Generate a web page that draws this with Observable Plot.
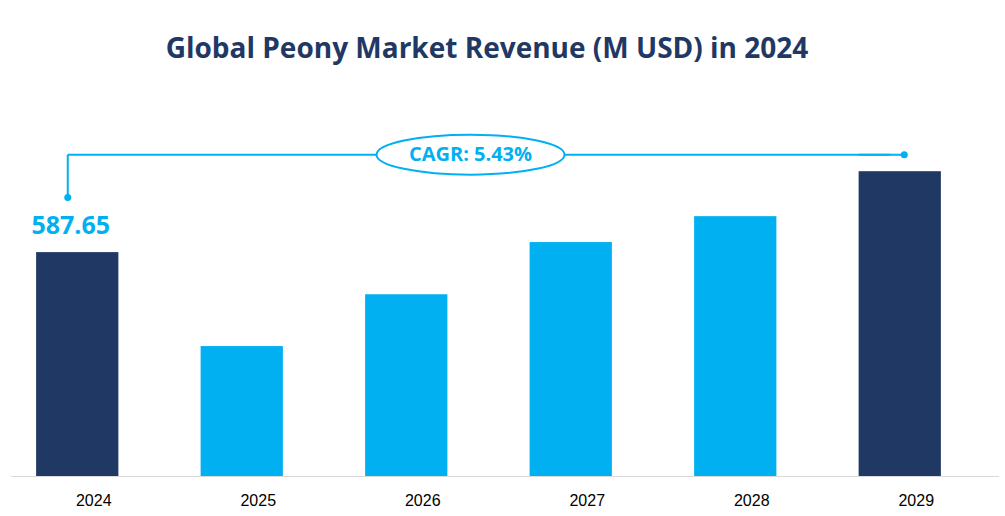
<!DOCTYPE html>
<html>
<head>
<meta charset="utf-8">
<script src="https://cdn.jsdelivr.net/npm/d3@7"></script>
<script src="https://cdn.jsdelivr.net/npm/@observablehq/plot@0.6"></script>
<style>
  html, body { margin: 0; padding: 0; background: #fff; }
  #wrap { position: relative; width: 1005px; height: 516px; overflow: hidden; }
  #title { position: absolute; left: 0; top: 33px; width: 1005px; padding-right: 31px; box-sizing: border-box;
           text-align: center; font-family: "Open Sans", sans-serif; font-weight: 700; font-size: 28px;
           line-height: 28px; color: #1F3864; white-space: nowrap; }
  #chart { position: absolute; left: 0; top: 90px; }
  svg { overflow: visible; }
</style>
</head>
<body>
<div id="wrap">
  <div id="title"></div>
  <div id="chart"></div>
</div>
<script>
const titleText = "Global Peony Market Revenue (M USD) in 2024";
const years = ["2024", "2025", "2026", "2027", "2028", "2029"];
const revenue = [587.65, 341, 477, 614, 682, 800];
const highlighted = ["2024", "2029"];
const startLabel = "587.65";
const cagrText = "CAGR: 5.43%";

const NAVY = "#1F3864";
const CYAN = "#00B0F0";
const FONT = "'Open Sans', sans-serif";

document.getElementById("title").textContent = titleText;

const rows = years.map((y, i) => ({year: y, value: revenue[i], hl: highlighted.includes(y)}));
const bracketLevel = d3.max(revenue) * 1.056;
const dotLevel = revenue[0] * 1.246;
const ann = [{x1: years[0], x2: years[years.length - 1], y1: dotLevel, y2: bracketLevel}];

const ellipse = {
  draw(ctx) {
    const rx = 94, ry = 20, k = 0.5523;
    ctx.moveTo(rx, 0);
    ctx.bezierCurveTo(rx, ry * k, rx * k, ry, 0, ry);
    ctx.bezierCurveTo(-rx * k, ry, -rx, ry * k, -rx, 0);
    ctx.bezierCurveTo(-rx, -ry * k, -rx * k, -ry, 0, -ry);
    ctx.bezierCurveTo(rx * k, -ry, rx, -ry * k, rx, 0);
    ctx.closePath();
  }
};

const chart = Plot.plot({
  width: 1005,
  height: 426,
  marginLeft: 11,
  marginRight: 6,
  marginTop: 5,
  marginBottom: 40,
  style: {background: "transparent", fontFamily: FONT},
  x: {type: "band", domain: years, range: [-5, 982], paddingInner: 0.5, paddingOuter: 0.25, round: false, axis: null},
  y: {domain: [0, 1000], range: [386, 5], axis: null},
  marks: [
    Plot.barY(rows, {x: "year", y: "value", fill: d => d.hl ? NAVY : CYAN}),
    Plot.ruleY([0], {stroke: "#d9d9d9", strokeWidth: 1}),
    Plot.text(rows, {x: "year", y: 0, text: "year", dy: 24, dx: 16, fontSize: 16,
      fill: "#000", fontFamily: "'Liberation Sans', sans-serif"}),
    // bracket
    Plot.link(ann, {x1: "x1", x2: "x1", y1: "y1", y2: "y2", dx: -10, stroke: CYAN, strokeWidth: 2}),
    Plot.link(ann, {x1: "x1", x2: "x2", y1: "y2", y2: "y2", dx: -10, stroke: CYAN, strokeWidth: 2}),
    Plot.tickY(ann, {x: "x2", y: "y2", insetRight: 37, stroke: CYAN, strokeWidth: 2}),
    Plot.dot(ann, {x: "x1", y: "y1", dx: -10, r: 3.5, fill: CYAN}),
    Plot.dot(ann, {x: "x2", y: "y2", dx: 4, r: 3.5, fill: CYAN}),
    Plot.dot(ann, {y: "y2", dx: -35, symbol: ellipse, fill: "white", stroke: CYAN, strokeWidth: 2}),
    Plot.text(ann, {y: "y2", dx: -35, text: () => cagrText, fontSize: 20, fontWeight: "bold", fill: CYAN}),
    Plot.text(rows.slice(0, 1), {x: "year", y: "value", text: () => startLabel, dy: -27, dx: -7,
      fontSize: 25, fontWeight: "bold", fill: CYAN})
  ]
});
document.getElementById("chart").appendChild(chart);
</script>
</body>
</html>
